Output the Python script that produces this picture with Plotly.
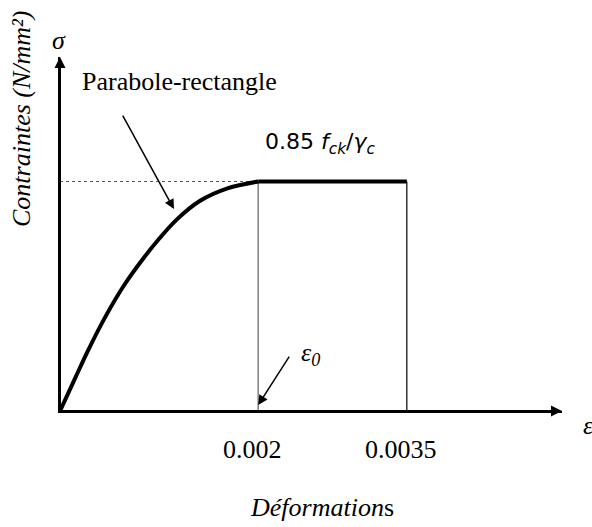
import plotly.graph_objects as go

# ---- data ----
strain_curve = [0, 0.00016, 0.00029, 0.00047, 0.00065, 0.00085, 0.00099, 0.00118, 0.00141, 0.00169, 0.002]
stress_curve = [0, 0.15, 0.27, 0.42, 0.55, 0.67, 0.745, 0.835, 0.915, 0.97, 1.0]   # sigma / (0.85 fck/gamma_c)
strain_plateau = [0.002, 0.0035]
stress_plateau = [1.0, 1.0]
eps_c2 = 0.002
eps_cu = 0.0035
tick_vals = [0.002, 0.0035]
tick_text = ["0.002", "0.0035"]

# ---- layout geometry ----
W, H = 592, 527
L, R, T, B = 60, 30, 57, 116
PW, PH = W - L - R, H - T - B
S = 99091.0      # px per unit strain
SY = 229.5       # px per unit stress
XMAX = PW / S
YMAX = PH / SY

def xp(px):
    return (px - L) / PW

def yp(py):
    return (H - B - py) / PH

SERIF = "Liberation Serif"
fig = go.Figure()

# dotted reference line
fig.add_trace(go.Scatter(x=[0, eps_c2], y=[1, 1], mode="lines",
                         line=dict(color="#555555", width=1, dash="dot"), hoverinfo="skip"))
# vertical lines
fig.add_trace(go.Scatter(x=[eps_c2, eps_c2], y=[0, 1], mode="lines",
                         line=dict(color="#808080", width=1.5), hoverinfo="skip"))
fig.add_trace(go.Scatter(x=[eps_cu, eps_cu], y=[0, 1], mode="lines",
                         line=dict(color="#000000", width=1.2), hoverinfo="skip"))
# parabola
fig.add_trace(go.Scatter(x=strain_curve, y=stress_curve, mode="lines",
                         line=dict(color="black", width=4, shape="spline", smoothing=1.0),
                         hoverinfo="skip"))
# plateau
fig.add_trace(go.Scatter(x=strain_plateau, y=stress_plateau, mode="lines",
                         line=dict(color="black", width=4), hoverinfo="skip"))

ann = []
# axis arrows
ann.append(dict(x=XMAX, y=0, ax=0, ay=0, xref="x", yref="y", axref="x", ayref="y",
                showarrow=True, arrowhead=2, arrowsize=1.1, arrowwidth=2, arrowcolor="black", text=""))
ann.append(dict(x=0, y=YMAX, ax=0, ay=0, xref="x", yref="y", axref="x", ayref="y",
                showarrow=True, arrowhead=2, arrowsize=1.1, arrowwidth=2, arrowcolor="black", text=""))
# pointer arrows
ann.append(dict(x=0.00115, y=0.88, ax=-52, ay=-95, xref="x", yref="y",
                showarrow=True, arrowhead=2, arrowsize=1.3, arrowwidth=1.5, arrowcolor="black", text=""))
ann.append(dict(x=eps_c2, y=0.026, ax=32, ay=-50, xref="x", yref="y",
                showarrow=True, arrowhead=2, arrowsize=1.3, arrowwidth=1.5, arrowcolor="black", text=""))

def label(text, px, py, size=26, family=SERIF, angle=0, xanchor="center"):
    ann.append(dict(x=xp(px), y=yp(py), xref="paper", yref="paper", text=text, showarrow=False,
                    font=dict(family=family, size=size, color="black"), textangle=angle,
                    xanchor=xanchor, yanchor="middle"))

label("<i>σ</i>", 59, 40)
label("Parabole-rectangle", 179, 82)
label("0.85 <i>f<sub>ck</sub></i>/<i>γ<sub>c</sub></i>", 320, 143, size=22, family="DejaVu Sans")
label("<i>ε<sub>0</sub></i>", 310, 354)
label("<i>ε</i>", 581, 426, xanchor="left")
label("<i>Déformation</i>s", 322, 508)
label("<i>Contraintes (N/mm²)</i>", 21, 119, angle=-90)

fig.update_layout(
    width=W, height=H, margin=dict(l=L, r=R, t=T, b=B),
    paper_bgcolor="white", plot_bgcolor="white", showlegend=False,
    annotations=ann,
    xaxis=dict(range=[0, XMAX], showgrid=False, zeroline=False, showline=True,
               linecolor="black", linewidth=2, tickvals=tick_vals, ticktext=tick_text,
               ticks="", ticklabelstandoff=14, ticklabelshift=-6,
               tickfont=dict(family=SERIF, size=26, color="black")),
    yaxis=dict(range=[0, YMAX], showgrid=False, zeroline=False, showline=True,
               linecolor="black", linewidth=2, showticklabels=False, ticks=""),
)

fig.write_html("out.html")
